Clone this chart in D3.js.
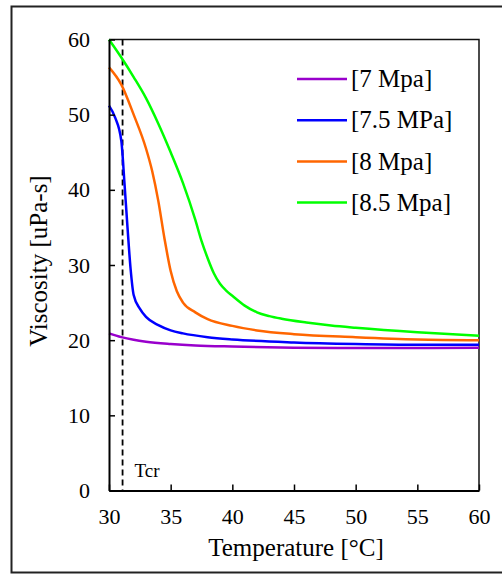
<!DOCTYPE html>
<html>
<head>
<meta charset="utf-8">
<script src="https://cdn.jsdelivr.net/npm/d3@7"></script>
<style>
  body { margin: 0; background: #fff; overflow: hidden; }
  svg { display: block; font-family: "Liberation Serif", "Times New Roman", serif; }
</style>
</head>
<body>
<svg id="chart" width="502" height="577"></svg>
<script>
// series labels, as in the legend
var seriesNames = ["[7 Mpa]", "[7.5 MPa]", "[8 Mpa]", "[8.5 Mpa]"];
var seriesColors = ["#9900cc", "#0000ff", "#ff6600", "#00ff00"];

// temperature [°C] / viscosity [uPa-s]
var t7  = [30, 31, 32, 33, 35, 37, 40, 45, 50, 55, 60];
var v7  = [20.9, 20.4, 20.05, 19.8, 19.5, 19.3, 19.15, 19.0, 18.95, 18.95, 19.0];

var t75 = [30, 30.5, 31, 31.25, 31.5, 31.75, 32, 32.5, 33, 34, 35, 36, 38, 40, 45, 50, 55, 60];
var v75 = [51.2, 49.6, 46.5, 41, 35, 29.5, 26, 24.2, 23.1, 22.0, 21.3, 20.9, 20.4, 20.1, 19.7, 19.5, 19.4, 19.4];

var t8  = [30, 31, 32, 33, 33.5, 34, 34.5, 35, 35.5, 36, 37, 38, 40, 42, 45, 50, 55, 60];
var v8  = [56.3, 54.0, 50.0, 45.5, 42.5, 38.5, 33.5, 29.2, 26.5, 25.0, 23.7, 22.8, 21.9, 21.3, 20.8, 20.4, 20.1, 20.0];

var t85 = [30, 31, 32, 33, 34, 35, 36, 37, 37.5, 38, 38.5, 39, 39.5, 40, 41, 42, 43, 44, 46, 48, 50, 55, 60];
var v85 = [60.0, 57.6, 55.0, 52.2, 48.8, 45.0, 40.9, 36.0, 33.2, 30.9, 28.9, 27.5, 26.6, 25.9, 24.6, 23.7, 23.2, 22.85, 22.35, 21.95, 21.65, 21.05, 20.6];

var xTicks = [30, 35, 40, 45, 50, 55, 60];
var yTicks = [0, 10, 20, 30, 40, 50, 60];
var tcr = 31.1;

var svg = d3.select("#chart");

// outer frame (right side runs off the picture)
svg.append("rect")
  .attr("x", 11.5).attr("y", 6.5)
  .attr("width", 520).attr("height", 566)
  .attr("fill", "none")
  .attr("stroke", "#222")
  .attr("stroke-width", 2);

var margin = {left: 109, top: 39.5, right: 23, bottom: 86.5};
var width = 502 - margin.left - margin.right,
    height = 577 - margin.top - margin.bottom;

var x = d3.scaleLinear().domain([30, 60]).range([0, width]);
var y = d3.scaleLinear().domain([0, 60]).range([height, 0]);

var g = svg.append("g")
  .attr("transform", "translate(" + margin.left + "," + margin.top + ")");

// top and right edges of the plot box
g.append("path")
  .attr("d", "M0,0H" + width + "V" + height)
  .attr("fill", "none")
  .attr("stroke", "#111")
  .attr("stroke-width", 1.5);

// critical temperature marker
g.append("line")
  .attr("x1", x(tcr)).attr("x2", x(tcr))
  .attr("y1", y(60)).attr("y2", y(0))
  .attr("stroke", "#000")
  .attr("stroke-width", 1.8)
  .attr("stroke-dasharray", "6,4");

g.append("text")
  .attr("x", x(tcr) + 12)
  .attr("y", height - 14)
  .attr("font-size", 19)
  .text("Tcr");

// curves
var line = d3.line()
  .x(function(d) { return x(d[0]); })
  .y(function(d) { return y(d[1]); })
  .curve(d3.curveMonotoneX);

var series = [[t7, v7], [t75, v75], [t8, v8], [t85, v85]];
series.forEach(function(s, i) {
  var pts = s[0].map(function(t, j) { return [t, s[1][j]]; });
  g.append("path")
    .datum(pts)
    .attr("fill", "none")
    .attr("stroke", seriesColors[i])
    .attr("stroke-width", 2.5)
    .attr("d", line);
});

// axes
var xAxis = g.append("g")
  .attr("transform", "translate(0," + height + ")")
  .call(d3.axisBottom(x).tickValues(xTicks).tickSize(-6).tickSizeOuter(0).tickPadding(18));
var yAxis = g.append("g")
  .call(d3.axisLeft(y).tickValues(yTicks).tickSize(-6).tickSizeOuter(0).tickPadding(19));

[xAxis, yAxis].forEach(function(a) {
  a.select(".domain").attr("stroke", "#000").attr("stroke-width", 2);
  a.selectAll(".tick line").attr("stroke", "#000").attr("stroke-width", 1.5);
  a.selectAll("text")
    .style("font-family", "'Liberation Serif', 'Times New Roman', serif")
    .attr("font-size", 22)
    .attr("fill", "#000");
});

// axis titles
g.append("text")
  .attr("x", width / 2 + 2)
  .attr("y", height + 65)
  .attr("text-anchor", "middle")
  .attr("font-size", 25)
  .text("Temperature [°C]");

g.append("text")
  .attr("transform", "translate(-62," + (height / 2 - 4) + ") rotate(-90)")
  .attr("text-anchor", "middle")
  .attr("font-size", 25)
  .text("Viscosity [uPa-s]");

// legend
var legend = g.selectAll(".legend")
  .data(seriesNames)
  .enter().append("g")
  .attr("class", "legend")
  .attr("transform", function(d, i) { return "translate(188," + (39.5 + i * 41.2) + ")"; });

legend.append("line")
  .attr("x1", 0).attr("x2", 50)
  .attr("stroke", function(d, i) { return seriesColors[i]; })
  .attr("stroke-width", 2.5);

legend.append("text")
  .attr("x", 54)
  .attr("dy", "0.33em")
  .attr("font-size", 25)
  .text(function(d) { return d; });
</script>
</body>
</html>
